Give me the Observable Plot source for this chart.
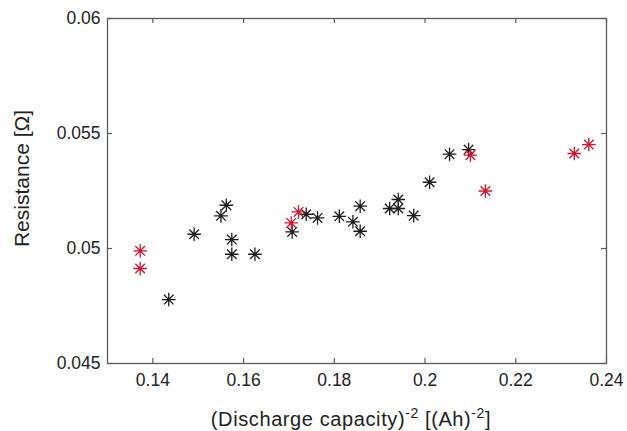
<!DOCTYPE html>
<html><head><meta charset="utf-8">
<script src="https://cdn.jsdelivr.net/npm/d3@7"></script>
<script src="https://cdn.jsdelivr.net/npm/@observablehq/plot@0.6"></script>
<style>body{margin:0;background:#fff}</style>
</head><body><div id="chart"></div>
<script>
// Black markers
const blackX = [0.1435, 0.1491, 0.1550, 0.1562, 0.1574, 0.1574, 0.1625, 0.1707, 0.1738, 0.1763, 0.1811, 0.1841, 0.1857, 0.1857, 0.1922, 0.1941, 0.1941, 0.1975, 0.2010, 0.2054, 0.2096];
const blackY = [0.04778, 0.05062, 0.05142, 0.05188, 0.05039, 0.04975, 0.04975, 0.05072, 0.05149, 0.05133, 0.05140, 0.05116, 0.05184, 0.05075, 0.05174, 0.05213, 0.05174, 0.05143, 0.05288, 0.05410, 0.05430];
// Red markers
const redX = [0.1372, 0.1372, 0.1705, 0.1721, 0.2100, 0.2133, 0.2329, 0.2361];
const redY = [0.04990, 0.04913, 0.05111, 0.05159, 0.05406, 0.05250, 0.05413, 0.05452];

const xTicks = [0.14, 0.16, 0.18, 0.2, 0.22, 0.24];
const yTicks = [0.045, 0.05, 0.055, 0.06];
const xDomain = [0.13, 0.24];
const yDomain = [0.045, 0.06];

const black = blackX.map((x, i) => ({x, y: blackY[i]}));
const red = redX.map((x, i) => ({x, y: redY[i]}));

const asterisk = {
  draw(ctx, size) {
    const r = Math.sqrt(size / Math.PI);
    const d = r * Math.SQRT1_2;
    ctx.moveTo(-r, 0); ctx.lineTo(r, 0);
    ctx.moveTo(0, -r); ctx.lineTo(0, r);
    ctx.moveTo(-d, -d); ctx.lineTo(d, d);
    ctx.moveTo(-d, d); ctx.lineTo(d, -d);
  }
};

const W = 627, H = 431, mL = 107, mR = 21, mT = 18, mB = 68;
const iw = W - mL - mR, ih = H - mT - mB;
const tick = 5;
const frameColor = "#5a5a5a";

const plot = Plot.plot({
  width: W, height: H,
  marginLeft: mL, marginRight: mR, marginTop: mT, marginBottom: mB,
  style: {fontFamily: "'Liberation Sans', Arial, Helvetica, sans-serif", fontSize: "17.5px", color: "#222", background: "#fff"},
  x: {domain: xDomain, label: null},
  y: {domain: yDomain, label: null},
  marks: [
    Plot.axisX({ticks: xTicks, tickSize: 0, tickPadding: 10, tickFormat: d => String(d), fill: "#222"}),
    Plot.axisY({ticks: yTicks, tickSize: 0, tickPadding: 7, tickFormat: d => String(d), fill: "#222"}),
    Plot.tickX(xTicks, {x: d => d, insetTop: ih - tick, stroke: frameColor, strokeWidth: 1.2}),
    Plot.tickX(xTicks, {x: d => d, insetBottom: ih - tick, stroke: frameColor, strokeWidth: 1.2}),
    Plot.tickY(yTicks, {y: d => d, insetRight: iw - tick, stroke: frameColor, strokeWidth: 1.2}),
    Plot.tickY(yTicks, {y: d => d, insetLeft: iw - tick, stroke: frameColor, strokeWidth: 1.2}),
    Plot.frame({stroke: frameColor, strokeWidth: 1.3}),
    Plot.dot(black, {x: "x", y: "y", symbol: asterisk, r: 6.8, stroke: "#1e1e1e", fill: "none", strokeWidth: 1.3}),
    Plot.dot(red, {x: "x", y: "y", symbol: asterisk, r: 6.8, stroke: "#d0152f", fill: "none", strokeWidth: 1.3})
  ]
});

const svg = d3.select(plot);
const xl = svg.append("text")
  .attr("x", 351).attr("y", 426)
  .attr("text-anchor", "middle")
  .attr("fill", "#222")
  .style("font-size", "20px")
  .style("letter-spacing", "0.6px");
xl.append("tspan").text("(Discharge capacity)");
xl.append("tspan").attr("dy", -8).style("font-size", "14px").text("-2");
xl.append("tspan").attr("dy", 8).text(" [(Ah)");
xl.append("tspan").attr("dy", -8).style("font-size", "14px").text("-2");
xl.append("tspan").attr("dy", 8).text("]");

svg.append("text")
  .attr("transform", `translate(28.5,178.5) rotate(-90)`)
  .attr("text-anchor", "middle")
  .attr("fill", "#222")
  .style("font-size", "21px")
  .text("Resistance [Ω]");

document.getElementById("chart").appendChild(plot);
</script>
</body></html>
